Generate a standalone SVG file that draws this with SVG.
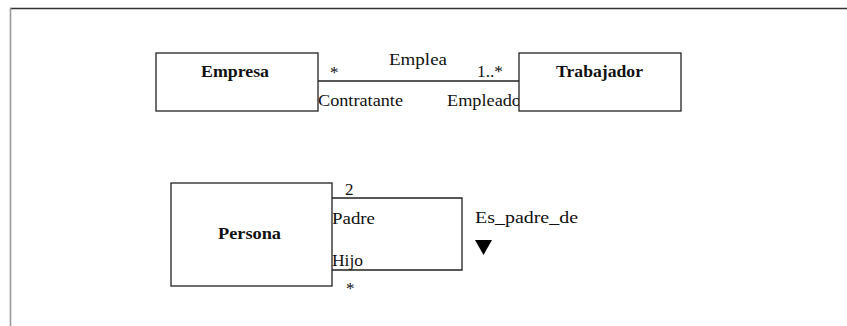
<svg xmlns="http://www.w3.org/2000/svg" width="847" height="326" viewBox="0 0 847 326">
<style>
.box{fill:#fff;stroke:#222;stroke-width:1.3}
.ln{fill:none;stroke:#222;stroke-width:1.3}
text{font-family:'Liberation Serif','Times New Roman',serif;font-size:17px;fill:#111}
.b{font-weight:bold}
</style>
<rect width="847" height="326" fill="#fff"/>
<g id="frame">
<line x1="10" y1="8.5" x2="847" y2="8.5" stroke="#333" stroke-width="1.6"/>
<line x1="10.5" y1="8" x2="10.5" y2="326" stroke="#999" stroke-width="1.6"/>
</g>
<g id="connectors">
<g id="emplea">
<line class="ln" x1="318" y1="81" x2="519" y2="81"/>
<text x="389" y="65" textLength="58" lengthAdjust="spacingAndGlyphs">Emplea</text>
<text x="330" y="78">*</text>
<text x="477" y="77" textLength="26" lengthAdjust="spacingAndGlyphs">1..*</text>
<text x="318" y="106" textLength="85" lengthAdjust="spacingAndGlyphs">Contratante</text>
<text x="447" y="106" textLength="74" lengthAdjust="spacingAndGlyphs">Empleado</text>
</g>
<g id="es_padre_de">
<polyline class="ln" points="332,198 462,198 462,270 332,270"/>
<text x="345" y="195">2</text>
<text x="332" y="224" textLength="43" lengthAdjust="spacingAndGlyphs">Padre</text>
<text x="332" y="266" textLength="31" lengthAdjust="spacingAndGlyphs">Hijo</text>
<text x="346" y="294" fill="#666" font-size="14">*</text>
<text x="475" y="223" textLength="103" lengthAdjust="spacingAndGlyphs">Es_padre_de</text>
<polygon points="475,240 492,240 483.5,255" fill="#000"/>
</g>
</g>
<g id="empresa">
<rect class="box" x="156" y="53" width="162" height="58"/>
<text class="b" x="201" y="77" textLength="68" lengthAdjust="spacingAndGlyphs">Empresa</text>
</g>
<g id="trabajador">
<rect class="box" x="519" y="53" width="162" height="58"/>
<text class="b" x="556" y="77" textLength="87" lengthAdjust="spacingAndGlyphs">Trabajador</text>
</g>
<g id="persona">
<rect class="box" x="171" y="183" width="161" height="103"/>
<text class="b" x="218" y="239" textLength="63" lengthAdjust="spacingAndGlyphs">Persona</text>
</g>
</svg>
